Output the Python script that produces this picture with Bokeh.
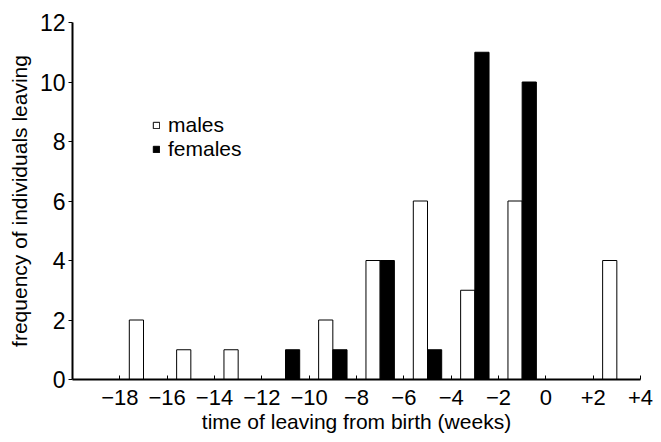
from bokeh.plotting import figure
from bokeh.models import Range1d, FixedTicker, Legend, LegendItem, ColumnDataSource
from bokeh.transform import dodge
from bokeh.embed import file_html
from bokeh.resources import INLINE

# data (2-week bins, bin centres in weeks relative to birth)
weeks = [-17, -15, -13, -11, -9, -7, -5, -3, -1, 1, 3]
males = [2, 1, 1, 0, 2, 4, 6, 3, 6, 0, 4]
females = [0, 0, 0, 1, 1, 4, 1, 11, 10, 0, 0]
x_ticks = [-18, -16, -14, -12, -10, -8, -6, -4, -2, 0, 2, 4]
x_tick_labels = ["\u221218", "\u221216", "\u221214", "\u221212", "\u221210", "\u22128",
                 "\u22126", "\u22124", "\u22122", "0", "+2", "+4"]
y_ticks = [0, 2, 4, 6, 8, 10, 12]

src = ColumnDataSource(dict(week=weeks, males=males, females=females))

FONT = "Liberation Sans"

p = figure(width=661, height=442, output_backend="svg", toolbar_location=None,
           x_range=Range1d(-20, 4), y_range=Range1d(0, 12),
           min_border_left=72, min_border_right=21, min_border_top=22, min_border_bottom=63)
p.outline_line_color = None
p.xgrid.visible = False
p.ygrid.visible = False
p.background_fill_color = "white"
p.border_fill_color = "white"

rm = p.vbar(x=dodge("week", -0.3, range=p.x_range), top="males", width=0.6, bottom=0,
            source=src, fill_color="white", line_color="black", line_width=1)
rf = p.vbar(x=dodge("week", 0.3, range=p.x_range), top="females", width=0.6, bottom=0,
            source=src, fill_color="black", line_color="black", line_width=1)

# x axis
xa = p.xaxis[0]
xa.ticker = FixedTicker(ticks=x_ticks)
xa.major_label_overrides = {t: l for t, l in zip(x_ticks, x_tick_labels)}
xa.major_tick_in = 4
xa.major_tick_out = 0
xa.minor_tick_line_color = None
xa.axis_line_width = 2
xa.axis_line_color = "black"
xa.major_tick_line_color = "black"
xa.major_label_text_font = FONT
xa.major_label_text_font_size = "22px"
xa.major_label_text_color = "black"
xa.major_label_standoff = 10
xa.axis_label = "time of leaving from birth (weeks)"
xa.axis_label_text_font = FONT
xa.axis_label_text_font_size = "21px"
xa.axis_label_text_font_style = "normal"
xa.axis_label_text_color = "black"
xa.axis_label_standoff = 2

# y axis
ya = p.yaxis[0]
ya.ticker = FixedTicker(ticks=y_ticks)
ya.major_tick_in = 0
ya.major_tick_out = 4
ya.minor_tick_line_color = None
ya.axis_line_width = 2
ya.axis_line_color = "black"
ya.major_tick_line_color = "black"
ya.major_label_text_font = FONT
ya.major_label_text_font_size = "23px"
ya.major_label_text_color = "black"
ya.major_label_standoff = 3
ya.axis_label = "frequency of individuals leaving"
ya.axis_label_text_font = FONT
ya.axis_label_text_font_size = "21px"
ya.axis_label_text_font_style = "normal"
ya.axis_label_text_color = "black"
ya.axis_label_standoff = 6

legend = Legend(items=[LegendItem(label="males", renderers=[rm]),
                       LegendItem(label="females", renderers=[rf])],
                location=(80, 218), orientation="vertical",
                glyph_width=8, glyph_height=8, label_standoff=8,
                label_text_font=FONT, label_text_font_size="21px", label_text_color="black",
                label_height=22, spacing=0, padding=0, margin=0,
                border_line_color=None, background_fill_alpha=0)
p.add_layout(legend)

open("out.html", "w").write(file_html(p, INLINE))
